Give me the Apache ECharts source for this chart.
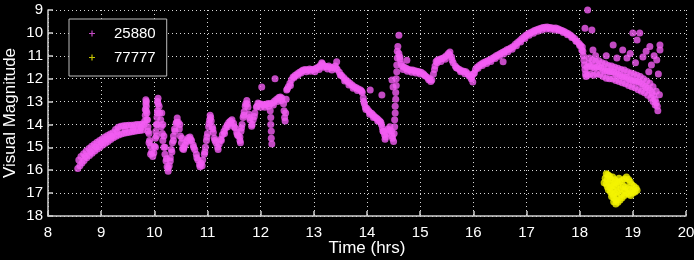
<!DOCTYPE html>
<html>
<head>
<meta charset="utf-8">
<script src="https://cdn.jsdelivr.net/npm/echarts@6/dist/echarts.min.js"></script>
<style>
  html, body { margin: 0; padding: 0; background: #000; }
  #chart { width: 694px; height: 260px; }
</style>
</head>
<body>
<div id="chart"></div>
<script>
const xTicks = { min: 8, max: 20, step: 1 };
const yTicks = { min: 9, max: 18, step: 1 };
const seriesNames = ['25880', '77777'];

const riseStart = [
  [8.56, 15.92], [8.60, 15.80], [8.64, 15.68], [8.68, 15.58], [8.73, 15.46], [8.78, 15.36], [8.83, 15.26],
  [8.88, 15.16], [8.93, 15.07], [8.98, 14.98], [9.03, 14.90], [9.08, 14.82], [9.13, 14.74], [9.18, 14.66],
  [9.23, 14.58], [9.28, 14.52], [9.33, 14.46], [9.38, 14.42], [9.43, 14.38], [9.48, 14.36], [9.53, 14.34],
  [9.58, 14.32], [9.63, 14.30], [9.68, 14.28], [9.73, 14.26], [9.78, 14.24],
  [8.58, 15.55], [8.62, 15.40], [8.67, 15.28], [8.72, 15.16], [8.77, 15.05], [8.82, 14.95], [8.87, 14.86],
  [8.92, 14.78], [8.97, 14.70], [9.02, 14.62], [9.07, 14.55], [9.12, 14.48], [9.17, 14.42], [9.22, 14.36],
  [9.27, 14.22], [9.32, 14.12], [9.37, 14.08], [9.42, 14.06], [9.47, 14.05], [9.52, 14.04], [9.57, 14.03],
  [9.62, 14.02], [9.67, 14.00], [9.72, 14.00], [9.77, 13.98], [9.81, 14.00],
  [8.70, 15.40], [8.80, 15.20], [8.90, 14.98], [9.00, 14.80], [9.10, 14.65], [9.20, 14.52], [9.30, 14.32],
  [9.45, 14.22], [9.60, 14.18], [9.75, 14.12]
];
const spikes = [
  [9.82, 13.85], [9.83, 13.60], [9.83, 13.35], [9.84, 13.10], [9.84, 12.92], [9.85, 13.20], [9.86, 13.50],
  [9.87, 13.80], [9.88, 14.10], [9.90, 14.40], [9.91, 14.70], [9.93, 14.95], [9.95, 15.20], [9.97, 15.40],
  [9.99, 15.25], [10.00, 14.95], [10.02, 14.60], [10.03, 14.30], [10.04, 14.00], [10.05, 13.70], [10.06, 13.40],
  [10.07, 13.10], [10.07, 12.86], [10.09, 13.20], [10.10, 13.50], [10.12, 13.80], [10.13, 14.10], [10.15, 14.40],
  [10.16, 14.70], [10.18, 15.00], [10.20, 15.30], [10.22, 15.60], [10.24, 15.85], [10.26, 16.05], [10.28, 15.80],
  [10.30, 15.45], [10.32, 15.10], [10.34, 14.80], [10.36, 14.50], [10.38, 14.20], [10.41, 13.95], [10.43, 13.72]
];
const wiggles = [
  [10.45, 13.90], [10.47, 14.20], [10.49, 14.50], [10.51, 14.80], [10.53, 15.05], [10.55, 15.10], [10.58, 14.90],
  [10.61, 14.70], [10.64, 14.58], [10.67, 14.55], [10.70, 14.70], [10.73, 14.90], [10.76, 15.10], [10.79, 15.30],
  [10.82, 15.55], [10.85, 15.75], [10.88, 15.70], [10.91, 15.55], [10.94, 15.30], [10.96, 15.00], [10.98, 14.70],
  [11.00, 14.40], [11.02, 14.10], [11.04, 13.80], [11.05, 13.60], [11.07, 13.85], [11.09, 14.10], [11.11, 14.35],
  [11.13, 14.60], [11.16, 14.80], [11.19, 14.98], [11.22, 14.85], [11.25, 14.65], [11.28, 14.45], [11.31, 14.30],
  [11.34, 14.15], [11.37, 14.02], [11.40, 13.92], [11.43, 13.85], [11.46, 13.80], [11.49, 13.95], [11.52, 14.15],
  [11.55, 14.35], [11.58, 14.50], [11.61, 14.55], [11.61, 14.70], [11.62, 14.80], [11.63, 14.30], [11.65, 14.00],
  [11.67, 13.70], [11.69, 13.45], [11.71, 13.20], [11.74, 12.95], [11.76, 13.25], [11.78, 13.55], [11.80, 13.80],
  [11.83, 14.08], [11.86, 13.80], [11.89, 13.50], [11.92, 13.25], [11.95, 13.06], [11.98, 13.10], [12.02, 13.12],
  [12.06, 13.15], [12.10, 13.12], [12.14, 13.08], [12.18, 13.10], [12.18, 13.40], [12.19, 13.70], [12.19, 14.00],
  [12.20, 14.30], [12.20, 14.60], [12.21, 14.85], [12.22, 13.06], [12.26, 12.98], [12.30, 12.90], [12.34, 12.82],
  [12.37, 12.80], [12.40, 12.85], [12.43, 13.10], [12.44, 13.40], [12.45, 13.70], [12.46, 13.85], [12.47, 13.50],
  [12.48, 12.90], [12.49, 12.50], [12.52, 12.35], [12.55, 12.20], [12.58, 12.05], [12.61, 11.93], [12.65, 11.85],
  [12.69, 11.78], [12.73, 11.72], [12.77, 11.66], [12.80, 11.62]
];
const plateau = [
  [12.84, 11.60], [12.88, 11.62], [12.92, 11.58], [12.96, 11.60], [13.00, 11.60], [13.04, 11.55], [13.08, 11.50],
  [13.12, 11.42], [13.16, 11.35], [13.20, 11.45], [13.24, 11.48], [13.28, 11.45], [13.32, 11.50], [13.36, 11.52],
  [13.40, 11.45], [13.44, 11.60], [13.48, 11.72], [13.52, 11.85], [13.56, 11.95], [13.60, 12.05], [13.64, 12.12],
  [13.68, 12.20], [13.72, 12.28], [13.76, 12.35], [13.80, 12.40], [13.84, 12.45], [13.88, 12.50], [13.91, 12.60],
  [13.93, 12.85], [13.95, 13.10], [13.97, 13.25], [14.00, 13.30], [14.03, 13.40], [14.06, 13.48], [14.09, 13.52],
  [14.12, 13.60], [14.15, 13.68], [14.18, 13.72], [14.21, 13.78], [14.24, 13.85], [14.27, 14.00], [14.29, 14.15],
  [14.31, 14.30], [14.33, 14.45], [14.35, 14.55], [14.38, 14.40], [14.40, 14.20], [14.43, 14.10], [14.46, 14.30],
  [14.48, 14.60], [14.50, 14.75], [14.51, 14.40], [14.52, 14.10], [14.52, 13.80], [14.53, 13.50], [14.53, 13.20],
  [14.54, 12.90], [14.54, 12.60], [14.55, 12.30], [14.55, 12.00], [14.56, 11.70], [14.56, 11.40], [14.57, 11.10],
  [14.57, 10.80], [14.58, 10.60], [14.60, 10.90], [14.62, 11.15], [14.64, 11.35], [14.66, 11.45], [14.70, 11.50],
  [14.74, 11.55], [14.78, 11.60], [14.82, 11.62], [14.86, 11.62], [14.90, 11.65], [14.94, 11.68], [14.98, 11.70],
  [15.02, 11.72], [15.06, 11.78], [15.10, 11.88], [15.14, 11.95], [15.18, 12.00], [15.22, 12.06], [15.25, 11.80],
  [15.28, 11.45], [15.30, 11.25]
];
const hump = [
  [15.33, 11.18], [15.37, 11.15], [15.41, 11.12], [15.45, 11.08], [15.49, 11.00], [15.53, 10.90], [15.56, 10.83],
  [15.59, 11.05], [15.62, 11.30], [15.66, 11.45], [15.70, 11.55], [15.74, 11.60], [15.78, 11.65], [15.82, 11.68],
  [15.86, 11.70], [15.90, 11.78], [15.94, 11.88], [15.97, 11.93], [16.00, 11.80], [16.04, 11.60], [16.07, 11.50],
  [16.11, 11.42], [16.15, 11.36], [16.19, 11.30], [16.23, 11.26], [16.27, 11.22], [16.31, 11.18], [16.35, 11.12],
  [16.39, 11.06], [16.43, 11.00], [16.47, 10.95], [16.51, 10.90], [16.55, 10.85], [16.59, 10.80], [16.63, 10.74],
  [16.67, 10.70], [16.71, 10.65], [16.75, 10.60], [16.79, 10.50], [16.83, 10.42], [16.87, 10.34], [16.91, 10.26],
  [16.95, 10.18], [16.99, 10.10], [17.03, 10.04], [17.07, 9.99], [17.11, 9.95], [17.15, 9.90], [17.19, 9.86],
  [17.23, 9.83], [17.27, 9.80], [17.31, 9.77], [17.35, 9.75], [17.39, 9.74], [17.43, 9.76], [17.47, 9.78],
  [17.51, 9.80], [17.55, 9.79], [17.59, 9.82], [17.63, 9.86], [17.67, 9.90], [17.71, 9.94], [17.75, 9.99],
  [17.79, 10.04], [17.83, 10.10], [17.87, 10.18], [17.91, 10.26], [17.95, 10.36], [17.99, 10.46], [18.02, 10.55],
  [18.05, 10.62]
];
// second row of points that gives the band its thickness
const bandSpread = [
  [9.85, 13.00], [9.85, 13.40], [9.86, 13.80], [9.88, 14.30], [9.90, 14.80], [9.93, 15.30], [10.06, 13.00],
  [10.06, 13.50], [10.05, 14.00], [10.04, 14.50], [10.02, 15.00], [10.14, 13.50], [10.16, 14.00], [10.18, 14.50],
  [10.20, 15.00], [10.23, 15.50], [10.26, 15.90], [10.30, 15.60], [10.33, 15.20], [10.36, 14.70], [10.39, 14.30],
  [10.42, 13.90],
  [10.48, 14.00], [10.52, 14.60], [10.56, 15.00], [10.62, 14.75], [10.68, 14.65], [10.74, 15.00], [10.80, 15.45],
  [10.86, 15.85], [10.90, 15.80], [10.95, 15.20], [10.99, 14.55], [11.03, 13.95], [11.06, 13.70], [11.10, 14.20],
  [11.14, 14.70], [11.20, 15.10], [11.26, 14.70], [11.32, 14.40], [11.38, 14.10], [11.44, 13.95], [11.50, 14.10],
  [11.56, 14.45], [11.64, 14.15], [11.68, 13.60], [11.72, 13.10], [11.75, 13.10], [11.79, 13.70], [11.84, 14.00],
  [11.88, 13.65], [11.93, 13.20], [12.00, 13.25], [12.08, 13.25], [12.15, 13.20], [12.24, 13.15], [12.32, 13.00],
  [12.39, 12.95], [12.50, 12.45], [12.56, 12.30], [12.63, 11.95], [12.70, 11.85], [12.76, 11.75],
  [12.86, 11.70], [12.94, 11.68], [13.02, 11.70], [13.10, 11.60], [13.18, 11.50], [13.26, 11.58], [13.34, 11.62],
  [13.42, 11.55], [13.50, 11.85], [13.58, 12.10], [13.66, 12.28], [13.74, 12.42], [13.82, 12.52], [13.90, 12.55],
  [13.94, 13.00], [13.98, 13.35], [14.05, 13.55], [14.12, 13.70], [14.20, 13.85], [14.26, 13.90], [14.30, 14.30],
  [14.34, 14.65], [14.42, 14.25], [14.47, 14.50], [14.62, 11.05], [14.68, 11.60], [14.76, 11.68], [14.84, 11.72],
  [14.92, 11.75], [15.00, 11.80], [15.08, 11.85], [15.16, 12.05], [15.20, 12.12], [15.27, 11.60], [15.32, 11.30],
  [15.39, 11.25], [15.47, 11.15], [15.55, 10.95], [15.60, 11.20], [15.68, 11.52], [15.76, 11.70], [15.84, 11.78],
  [15.92, 11.88], [15.96, 12.00], [16.02, 11.75], [16.09, 11.55], [16.17, 11.42], [16.25, 11.34], [16.33, 11.25],
  [16.41, 11.12], [16.49, 11.02], [16.57, 10.92], [16.65, 10.82], [16.73, 10.72], [16.81, 10.56], [16.89, 10.40],
  [16.97, 10.24], [17.05, 10.10], [17.13, 10.02], [17.21, 9.93], [17.29, 9.87], [17.37, 9.83], [17.45, 9.84],
  [17.53, 9.87], [17.61, 9.90], [17.69, 9.98], [17.77, 10.08], [17.85, 10.20], [17.93, 10.36], [18.00, 10.55],
  [18.04, 10.75]
];
const tailBand = [
  [18.06, 10.80], [18.07, 11.00], [18.08, 11.20], [18.09, 11.40], [18.10, 11.60], [18.11, 11.80], [18.12, 11.90],
  [18.14, 11.50], [18.17, 11.35], [18.20, 11.45], [18.24, 11.50], [18.28, 11.55], [18.32, 11.50], [18.36, 11.48],
  [18.40, 11.52], [18.44, 11.60], [18.48, 11.65], [18.52, 11.68], [18.56, 11.70], [18.60, 11.70], [18.64, 11.72],
  [18.68, 11.78], [18.72, 11.82], [18.76, 11.86], [18.80, 11.90], [18.84, 11.92], [18.88, 11.95], [18.92, 12.00],
  [18.96, 12.05], [19.00, 12.08], [19.04, 12.10], [19.08, 12.12], [19.12, 12.16], [19.16, 12.22], [19.20, 12.30],
  [19.24, 12.36], [19.28, 12.42], [19.32, 12.50], [19.36, 12.62], [19.39, 12.75], [19.42, 12.90], [19.44, 13.05],
  [19.46, 13.20], [19.47, 13.40],
  [18.15, 11.85], [18.20, 11.80], [18.26, 11.85], [18.32, 11.80], [18.38, 11.82], [18.44, 11.90], [18.50, 11.98],
  [18.56, 12.00], [18.62, 12.02], [18.68, 12.08], [18.74, 12.12], [18.80, 12.18], [18.86, 12.22], [18.92, 12.30],
  [18.98, 12.35], [19.04, 12.40], [19.10, 12.48], [19.16, 12.55], [19.22, 12.62], [19.28, 12.72], [19.34, 12.85],
  [19.38, 13.00], [19.42, 13.15],
  [18.18, 11.10], [18.24, 11.20], [18.30, 11.25], [18.36, 11.22], [18.42, 11.30], [18.48, 11.35], [18.54, 11.42],
  [18.60, 11.45], [18.66, 11.50], [18.72, 11.55], [18.78, 11.60], [18.84, 11.62], [18.90, 11.70], [18.96, 11.75],
  [19.02, 11.80], [19.08, 11.85], [19.14, 11.90], [19.20, 12.00], [19.26, 12.10], [19.32, 12.20], [19.38, 12.35],
  [19.44, 12.55], [19.50, 12.70]
];
const strays = [
  [18.15, 9.00], [18.10, 9.80], [18.23, 9.87], [18.25, 10.75], [18.30, 11.00], [18.63, 10.53], [18.81, 10.75],
  [19.08, 10.31], [19.13, 10.00], [19.00, 10.00], [19.32, 10.60], [19.51, 10.53], [19.45, 11.18], [19.19, 11.05],
  [18.89, 11.10], [19.51, 10.75], [18.70, 11.10], [18.95, 10.90], [19.25, 10.80], [19.40, 11.00], [19.05, 11.30],
  [18.50, 11.00], [19.35, 11.40], [19.48, 11.80], [19.30, 11.70],
  [16.56, 11.26], [15.99, 12.15], [12.27, 12.00], [12.02, 12.36], [13.43, 11.26], [14.06, 12.50], [14.28, 12.71],
  [14.47, 12.06], [14.49, 12.36], [14.60, 10.10], [14.75, 11.20], [13.15, 11.30]
];

// 77777
const yellowCluster = [
  [18.50, 16.15], [18.53, 16.20], [18.56, 16.25], [18.48, 16.35], [18.52, 16.40], [18.58, 16.38], [18.62, 16.30],
  [18.66, 16.42], [18.70, 16.50], [18.46, 16.55], [18.50, 16.60], [18.55, 16.55], [18.60, 16.62], [18.64, 16.68],
  [18.68, 16.70], [18.72, 16.60], [18.76, 16.50], [18.80, 16.45], [18.84, 16.38], [18.88, 16.30], [18.92, 16.40],
  [18.95, 16.50], [18.98, 16.62], [19.02, 16.70], [19.06, 16.78], [19.08, 16.88], [19.04, 16.95], [19.00, 16.90],
  [18.95, 16.85], [18.90, 16.80], [18.86, 16.72], [18.82, 16.70], [18.78, 16.80], [18.74, 16.88], [18.70, 16.95],
  [18.66, 17.00], [18.62, 17.05], [18.58, 16.95], [18.54, 16.85], [18.60, 17.15], [18.64, 17.20], [18.68, 17.30],
  [18.72, 17.40], [18.76, 17.30], [18.80, 17.20], [18.84, 17.10], [18.88, 17.00], [18.92, 17.05], [18.96, 17.10],
  [18.70, 17.15], [18.78, 17.05], [18.85, 16.90], [18.62, 16.85], [18.58, 16.75], [18.66, 16.55], [18.74, 16.35],
  [19.00, 17.00], [18.52, 16.72], [18.68, 17.48], [18.64, 17.38]
];

const magentaPoints = [].concat(riseStart, spikes, wiggles, plateau, hump, bandSpread, tailBand, strays);

const starIcon = 'path://M4,0 L6,0 L6,4 L10,4 L10,6 L6,6 L6,10 L4,10 L4,6 L0,6 L0,4 L4,4 Z';
const labelFont = '"Liberation Sans", Arial, sans-serif';

const chart = echarts.init(document.getElementById('chart'));

chart.setOption({
  backgroundColor: '#000',
  animation: false,
  grid: { left: 48, right: 8, top: 10, bottom: 44, containLabel: false, outerBoundsMode: 'none' },
  legend: {
    orient: 'vertical',
    left: 69,
    top: 19,
    padding: [7, 11, 11, 20],
    itemGap: 9,
    itemWidth: 6,
    itemHeight: 6,
    backgroundColor: '#000',
    borderColor: '#bdbdbd',
    borderWidth: 1,
    borderRadius: 0,
    textStyle: { color: '#fff', fontSize: 15, fontFamily: labelFont, padding: [0, 0, 0, 14] },
    data: [
      { name: seriesNames[0], icon: starIcon },
      { name: seriesNames[1], icon: starIcon }
    ]
  },
  xAxis: {
    type: 'value',
    min: xTicks.min,
    max: xTicks.max,
    interval: xTicks.step,
    name: 'Time (hrs)',
    nameLocation: 'middle',
    nameGap: 24,
    nameMoveOverlap: false,
    nameTextStyle: { color: '#fff', fontSize: 17, fontFamily: labelFont },
    axisLine: { lineStyle: { color: '#cfcfcf', width: 1.5 } },
    axisTick: { inside: true, length: 5, lineStyle: { color: '#cfcfcf', width: 1.5 } },
    axisLabel: { color: '#fff', fontSize: 15, fontFamily: labelFont, margin: 9 },
    splitLine: { show: true, lineStyle: { color: '#d8d8d8', type: [1, 3], width: 1 } }
  },
  yAxis: {
    type: 'value',
    inverse: true,
    min: yTicks.min,
    max: yTicks.max,
    interval: yTicks.step,
    name: 'Visual Magnitude',
    nameLocation: 'middle',
    nameGap: 29,
    nameMoveOverlap: false,
    nameTextStyle: { color: '#fff', fontSize: 17, fontFamily: labelFont },
    axisLine: { lineStyle: { color: '#cfcfcf', width: 1.5 } },
    axisTick: { inside: true, length: 5, lineStyle: { color: '#cfcfcf', width: 1.5 } },
    axisLabel: { color: '#fff', fontSize: 15, fontFamily: labelFont, margin: 5 },
    splitLine: { show: true, lineStyle: { color: '#d8d8d8', type: [1, 3], width: 1 } }
  },
  series: [
    {
      name: seriesNames[0],
      type: 'scatter',
      symbol: 'circle',
      symbolSize: 7,
      itemStyle: { color: '#f25cf2' },
      data: magentaPoints
    },
    {
      name: seriesNames[1],
      type: 'scatter',
      symbol: 'circle',
      symbolSize: 7,
      itemStyle: { color: '#f4f400' },
      data: yellowCluster
    }
  ]
});
</script>
</body>
</html>
